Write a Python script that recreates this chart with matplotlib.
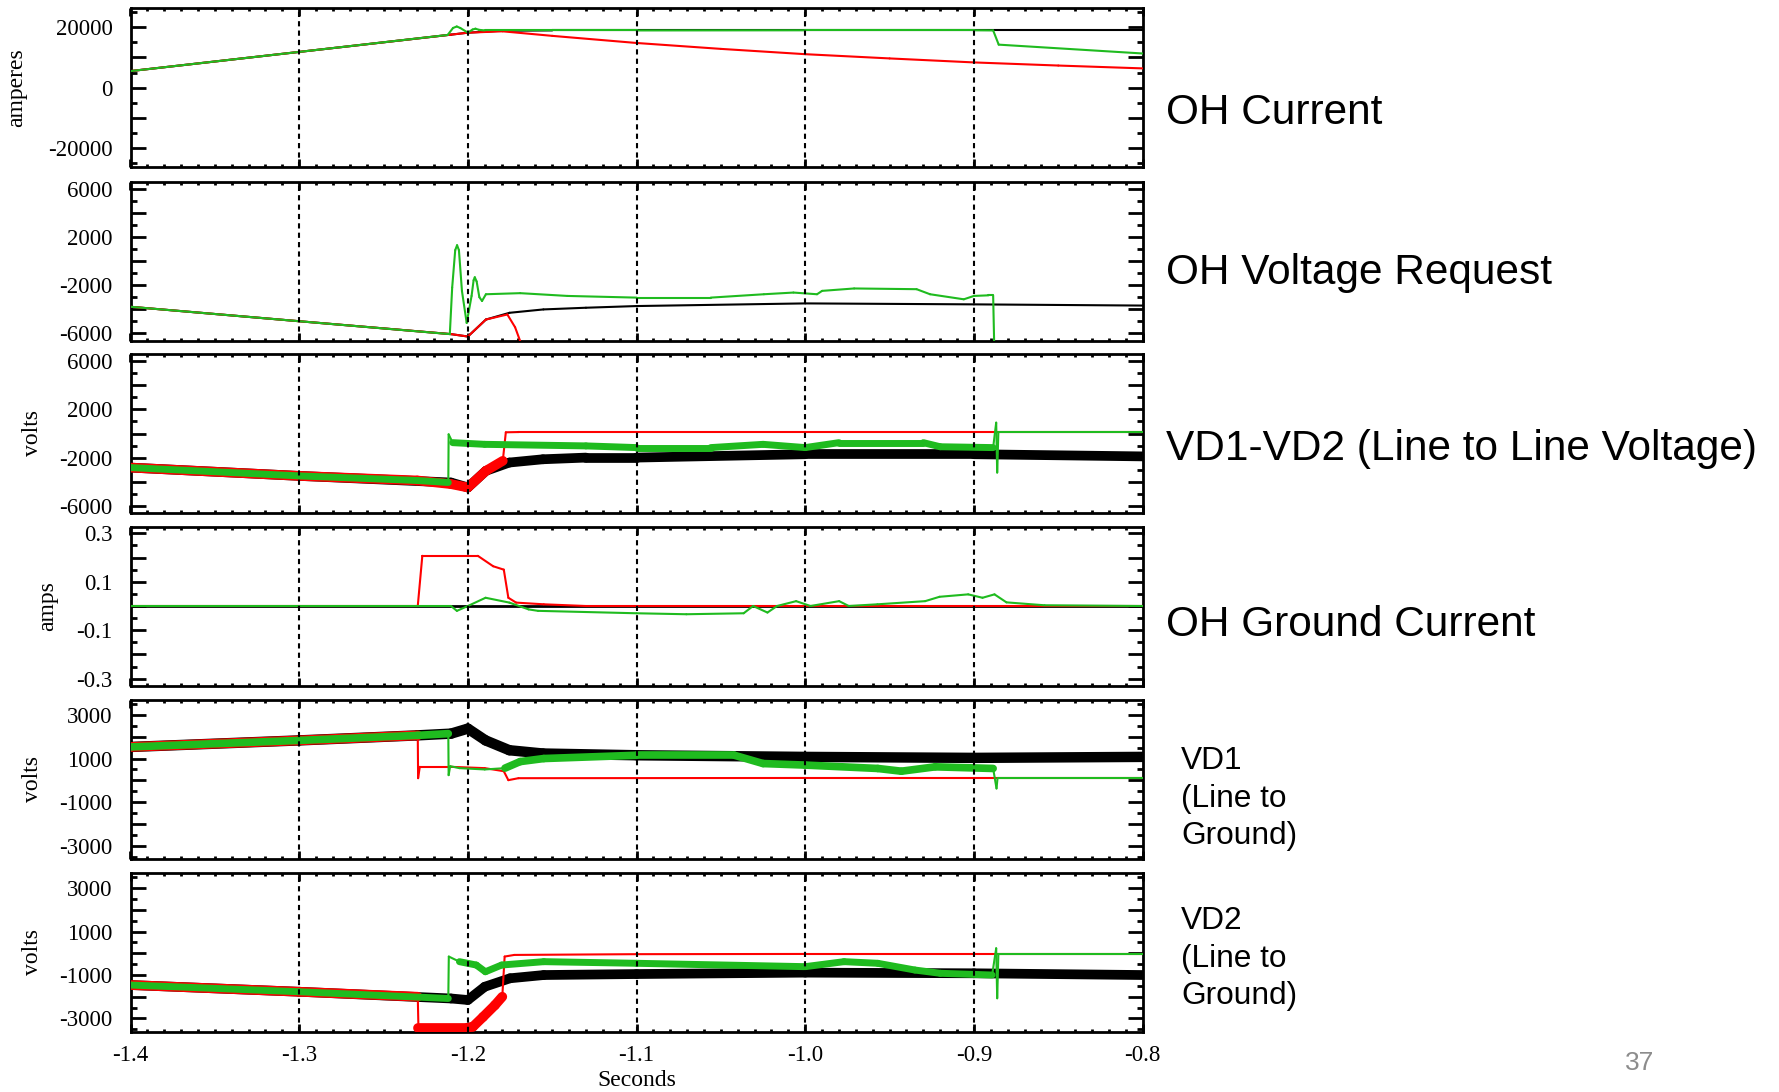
import matplotlib
matplotlib.use('Agg')
import matplotlib.pyplot as plt
from matplotlib.ticker import MultipleLocator, FuncFormatter
from matplotlib.collections import LineCollection

plt.rcParams['axes.unicode_minus'] = False
plt.rcParams['font.family'] = 'Liberation Serif'

BLACK, RED, GREEN = '#000000', '#ff0000', '#1fbb1f'

# ---- OH Current (amperes)
oh_cur_t_black = [-1.4, -1.3, -1.21, -1.2, -1.18, -1.15, -1.0, -0.9, -0.8]
oh_cur_black = [5470, 11800, 17500, 18150, 18800, 18900, 18900, 18900, 18900]
oh_cur_t_red = [-1.4, -1.3, -1.21, -1.2, -1.1794, -1.15, -1.1, -1.05, -1.0, -0.95, -0.9, -0.85, -0.8]
oh_cur_red = [5470, 11800, 17500, 18150, 18600, 17100, 14750, 12800, 11050, 9650, 8330, 7300, 6360]
oh_cur_t_green = [-1.4, -1.3, -1.212, -1.2088, -1.2066, -1.2045, -1.2, -1.1972, -1.1955, -1.1935,
                  -1.19, -1.1, -1.0, -0.9, -0.8886, -0.8853, -0.8]
oh_cur_green = [5470, 11800, 17400, 19700, 20200, 19700, 18150, 19200, 19470, 19100,
                18900, 18900, 18950, 18950, 18900, 14200, 11280]

# ---- OH Voltage Request
oh_v_t_black = [-1.4, -1.3, -1.21, -1.2, -1.1893, -1.1753, -1.1552, -1.13, -1.1, -1.0, -0.9, -0.8]
oh_v_black = [-3800, -5000, -6070, -6270, -4860, -4300, -4020, -3880, -3740, -3520, -3600, -3700]
oh_v_t_red = [-1.4, -1.3, -1.21, -1.2, -1.1893, -1.1766, -1.172, -1.1686]
oh_v_red = [-3800, -5000, -6070, -6270, -4860, -4440, -5500, -6800]
oh_v_t_green = [-1.4, -1.3, -1.2107, -1.2093, -1.2075, -1.2064, -1.2053, -1.2035, -1.2007,
                -1.1978, -1.1966, -1.1959, -1.1948, -1.1932, -1.1916, -1.1893, -1.169, -1.141,
                -1.1, -1.056, -1.0245, -1.007, -0.993, -0.99, -0.971, -0.934, -0.926, -0.906,
                -0.9, -0.8914, -0.8886, -0.888]
oh_v_green = [-3800, -5000, -6070, -2200, 900, 1310, 900, -2500, -5140,
              -2900, -1600, -1350, -1700, -3000, -3320, -2760, -2670, -2900,
              -3040, -3040, -2760, -2620, -2760, -2480, -2280, -2340, -2760, -3180,
              -2900, -2850, -2850, -6800]

# ---- VD1-VD2
vd12_t_black = [-1.4, -1.3, -1.21, -1.2, -1.1893, -1.1754, -1.1555, -1.13, -1.1, -1.0, -0.9, -0.8]
vd12_black = [-2830, -3520, -4070, -4480, -3100, -2410, -2140, -2000, -2000, -1720, -1720, -1900]
vd12_t_red = [-1.4, -1.3, -1.23, -1.21, -1.2, -1.1893, -1.1793, -1.1775, -1.17, -0.8]
vd12_red = [-2830, -3520, -3900, -4200, -4480, -3100, -2270, 100, 120, 120]
vd12_t_green = [-1.4, -1.3, -1.23, -1.2116, -1.2114, -1.209, -1.19, -1.13, -1.1, -1.056,
                -1.025, -1.0, -0.98, -0.93, -0.92, -0.8886, -0.8868, -0.8862, -0.8855, -0.8]
vd12_green = [-2830, -3520, -3900, -4070, -70, -760, -900, -1030, -1170, -1170,
              -900, -1170, -760, -760, -1100, -1170, 900, -3240, 120, 120]

# ---- OH Ground Current (amps)
gnd_t_black = [-1.4, -0.8]
gnd_black = [0, 0]
gnd_t_red = [-1.4, -1.2297, -1.227, -1.1941, -1.185, -1.1787, -1.176, -1.1714, -1.155, -1.13, -0.8]
gnd_red = [0, 0, 0.207, 0.207, 0.164, 0.150, 0.034, 0.014, 0.007, 0, 0]
gnd_t_green = [-1.4, -1.21, -1.2065, -1.2, -1.1895, -1.1754, -1.164, -1.1584, -1.1, -1.0705,
               -1.0365, -1.0309, -1.0224, -1.0167, -1.0054, -0.9969, -0.9799, -0.9742, -0.9572,
               -0.9289, -0.9204, -0.9034, -0.8949, -0.8878, -0.8807, -0.8581, -0.8]
gnd_green = [0, 0, -0.02, 0, 0.034, 0.014, -0.014, -0.02, -0.03, -0.034,
             -0.03, 0, -0.027, 0, 0.02, 0, 0.02, 0, 0.007,
             0.02, 0.038, 0.048, 0.034, 0.048, 0.015, 0.003, 0]

# ---- VD1 (line to ground)
vd1_t_black = [-1.4, -1.3, -1.23, -1.21, -1.2, -1.1895, -1.1754, -1.1555, -1.1, -1.0, -0.9, -0.8]
vd1_black = [1530, 1830, 2060, 2140, 2370, 1830, 1380, 1230, 1150, 1075, 1030, 1075]
vd1_t_red = [-1.4, -1.3, -1.2297, -1.2295, -1.2285, -1.21, -1.19, -1.1787, -1.176, -1.17, -1.0, -0.8]
vd1_red = [1530, 1830, 2060, 100, 620, 620, 560, 420, 10, 100, 110, 110]
vd1_t_green = [-1.4, -1.3, -1.23, -1.2116, -1.2114, -1.2105, -1.205, -1.19, -1.178, -1.169, -1.155,
               -1.1, -1.042, -1.025, -1.0, -0.957, -0.943, -0.923, -0.8886, -0.8866, -0.886, -0.8]
vd1_green = [1530, 1830, 2060, 2140, 240, 650, 560, 500, 560, 860, 1000,
             1150, 1150, 770, 700, 545, 420, 620, 545, -370, 110, 110]

# ---- VD2 (line to ground)
vd2_t_black = [-1.4, -1.3, -1.21, -1.2, -1.19, -1.175, -1.155, -1.1, -1.0, -0.9, -0.8]
vd2_black = [-1460, -1770, -2080, -2150, -1540, -1150, -1000, -955, -890, -920, -1000]
vd2_t_red = [-1.4, -1.3, -1.2297, -1.2293, -1.2, -1.197, -1.191, -1.184, -1.1796, -1.1782,
             -1.1725, -1.1, -1.0, -0.8]
vd2_red = [-1460, -1770, -2000, -3420, -3420, -3380, -2930, -2390, -2000, -150,
           -75, -40, -30, -30]
vd2_t_green = [-1.4, -1.3, -1.2116, -1.2113, -1.205, -1.195, -1.1896, -1.18, -1.155, -1.1,
               -1.0, -0.977, -0.957, -0.935, -0.92, -0.8892, -0.8868, -0.8862, -0.8855, -0.8]
vd2_green = [-1460, -1770, -2080, -150, -385, -540, -850, -540, -385, -460,
             -615, -385, -460, -770, -920, -1000, 230, -2070, -30, -30]

grid_x = [-1.3, -1.2, -1.1, -1.0, -0.9]
xtick_labels = ['-1.4', '-1.3', '-1.2', '-1.1', '-1.0', '-0.9', '-0.8']


def draw(ax, t, v, color, noisy=(), lw=1.5, nlw=6.0):
    segs, lws = [], []
    for i in range(len(t) - 1):
        segs.append([(t[i], v[i]), (t[i + 1], v[i + 1])])
        thick = any(a <= t[i] and t[i + 1] <= b for a, b in noisy)
        lws.append(nlw if thick else lw)
    ax.add_collection(LineCollection(segs, colors=color, linewidths=lws,
                                     capstyle='round', joinstyle='round', zorder=3))


fig = plt.figure(figsize=(17.79, 10.92), dpi=100)
W, H = 1779.0, 1092.0
left, width = 130.5 / W, (1142.6 - 130.5) / W
tops = [8, 181.5, 354, 526.5, 700, 872.5]
ph = 159

panels = [
    ((-26200, 26300), 10000, 5000, lambda v: v % 20000 == 0, '%d'),
    ((-6600, 6600), 2000, 1000, lambda v: v % 4000 == 2000, '%d'),
    ((-6600, 6600), 2000, 1000, lambda v: v % 4000 == 2000, '%d'),
    ((-0.328, 0.328), 0.1, 0.05, lambda v: round(v * 10) % 2 == 1, '%.1f'),
    ((-3600, 3680), 1000, 500, lambda v: round(v / 1000) % 2 == 1, '%d'),
    ((-3600, 3720), 1000, 500, lambda v: round(v / 1000) % 2 == 1, '%d'),
]

axes = []
for i, (ylim, maj, mnr, show, fmt) in enumerate(panels):
    ax = fig.add_axes([left, 1 - (tops[i] + ph) / H, width, ph / H])
    ax.set_xlim(-1.4, -0.8)
    ax.set_ylim(*ylim)
    ax.yaxis.set_major_locator(MultipleLocator(maj))
    ax.yaxis.set_minor_locator(MultipleLocator(mnr))
    ax.yaxis.set_major_formatter(FuncFormatter(
        lambda v, p, show=show, fmt=fmt: (fmt % v) if show(v) else ''))
    ax.xaxis.set_major_locator(MultipleLocator(0.1))
    ax.xaxis.set_minor_locator(MultipleLocator(0.01))
    ax.tick_params(which='both', direction='in', top=True, right=True, width=2)
    ax.tick_params(axis='y', which='major', length=11, pad=13, labelsize=16.5)
    ax.tick_params(axis='y', which='minor', length=4.5)
    ax.tick_params(axis='x', which='major', length=6, pad=10, labelsize=16.5)
    ax.tick_params(axis='x', which='minor', length=2.5)
    for s in ax.spines.values():
        s.set_linewidth(2)
    if i < 5:
        ax.set_xticklabels([])
    for gx in grid_x:
        ax.axvline(gx, color='k', lw=1.5, ls=(0, (2.5, 2)), zorder=5)
    axes.append(ax)

axes[5].set_xticks([-1.4, -1.3, -1.2, -1.1, -1.0, -0.9, -0.8])
axes[5].set_xticklabels(xtick_labels)

a1, a2, a3, a4, a5, a6 = axes
draw(a1, oh_cur_t_black, oh_cur_black, BLACK)
draw(a1, oh_cur_t_red, oh_cur_red, RED)
draw(a1, oh_cur_t_green, oh_cur_green, GREEN)

draw(a2, oh_v_t_black, oh_v_black, BLACK)
draw(a2, oh_v_t_red, oh_v_red, RED)
draw(a2, oh_v_t_green, oh_v_green, GREEN)

draw(a3, vd12_t_black, vd12_black, BLACK, noisy=[(-1.4, -0.8)], nlw=7.0)
draw(a3, vd12_t_red, vd12_red, RED, noisy=[(-1.4, -1.1793)], nlw=7.0)
draw(a3, vd12_t_green, vd12_green, GREEN, noisy=[(-1.4, -1.2116), (-1.209, -0.8886)], nlw=5.0)

draw(a4, gnd_t_black, gnd_black, BLACK, lw=2)
draw(a4, gnd_t_red, gnd_red, RED)
draw(a4, gnd_t_green, gnd_green, GREEN)

draw(a5, vd1_t_black, vd1_black, BLACK, noisy=[(-1.4, -0.8)], nlw=7.5)
draw(a5, vd1_t_red, vd1_red, RED, noisy=[(-1.4, -1.2297)], nlw=7.0)
draw(a5, vd1_t_green, vd1_green, GREEN, noisy=[(-1.4, -1.2116), (-1.178, -0.8886)], nlw=5.5)

draw(a6, vd2_t_black, vd2_black, BLACK, noisy=[(-1.4, -0.8)], nlw=7.0)
draw(a6, vd2_t_red, vd2_red, RED, noisy=[(-1.4, -1.2297), (-1.2293, -1.1796)], nlw=7.0)
draw(a6, vd2_t_green, vd2_green, GREEN, noisy=[(-1.4, -1.2116), (-1.205, -0.8892)], nlw=5.0)

# axis titles (serif, rotated)
fig.text(17 / W, 1 - 87.5 / H, 'amperes', rotation=90, ha='center', va='center', fontsize=17)
fig.text(32 / W, 1 - 433.5 / H, 'volts', rotation=90, ha='center', va='center', fontsize=17)
fig.text(48 / W, 1 - 606 / H, 'amps', rotation=90, ha='center', va='center', fontsize=17)
fig.text(32 / W, 1 - 779.5 / H, 'volts', rotation=90, ha='center', va='center', fontsize=17)
fig.text(32 / W, 1 - 952 / H, 'volts', rotation=90, ha='center', va='center', fontsize=17)
fig.text(636.5 / W, 1 - 1081 / H, 'Seconds', ha='center', va='center', fontsize=17)

# right-hand descriptions
big = [('OH Current', 124), ('OH Voltage Request', 284),
       ('VD1-VD2 (Line to Line Voltage)', 460), ('OH Ground Current', 636)]
for txt, base in big:
    fig.text(1166 / W, 1 - base / H, txt, family='Liberation Sans', fontsize=30.5, va='baseline')

small = [('VD1', 769), ('(Line to', 807), ('Ground)', 844),
         ('VD2', 929), ('(Line to', 967), ('Ground)', 1004)]
for txt, base in small:
    fig.text(1181 / W, 1 - base / H, txt, family='Liberation Sans', fontsize=22.8, va='baseline')

fig.text(1640 / W, 1 - 1063 / H, '37', family='Liberation Sans', fontsize=19,
         color='#8c8c8c', ha='center', va='center')

plt.savefig('out.png', dpi=100)
